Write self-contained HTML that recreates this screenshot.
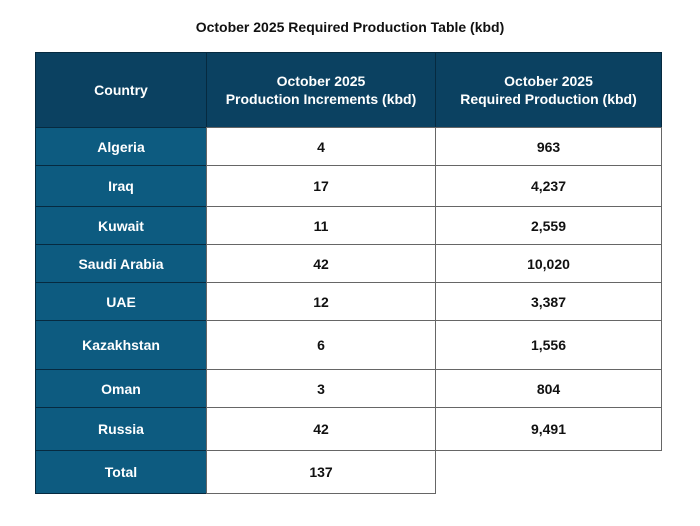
<!DOCTYPE html>
<html><head><meta charset="utf-8"><style>
body{margin:0;width:700px;height:526px;background:#fff;font-family:"Liberation Sans",sans-serif;position:relative;overflow:hidden}
.t{position:absolute;left:0;width:700px;top:19px;text-align:center;font-weight:bold;font-size:14px;color:#111}
.c{position:absolute;box-sizing:border-box;display:flex;align-items:center;justify-content:center;text-align:center;font-weight:bold;font-size:14px;border:1px solid #666;line-height:18px}
.h{background:#0b4161;color:#fff;border-color:#062a40}
.k{background:#0d5b80;color:#fff;border-color:#062a40}
.v{background:#fff;color:#111}
</style></head><body>
<div class="t">October 2025 Required Production Table (kbd)</div>
<div id="tbl"></div>
<script>
const countries=["Algeria","Iraq","Kuwait","Saudi Arabia","UAE","Kazakhstan","Oman","Russia","Total"];
const increments=["4","17","11","42","12","6","3","42","137"];
const required=["963","4,237","2,559","10,020","3,387","1,556","804","9,491",""];
const rowEdges=[127,165,206,244,282,320,369,407,450,493];
const colEdges=[35,206,435,661];
const tbl=document.getElementById('tbl');
function cell(x0,x1,y0,y1,cls,html,name){
  const d=document.createElement('div');
  d.className='c '+cls;
  d.style.left=x0+'px';d.style.top=y0+'px';
  d.style.width=(x1-x0+1)+'px';d.style.height=(y1-y0+1)+'px';
  d.innerHTML=html;
  
  
  tbl.appendChild(d);
}
cell(colEdges[0],colEdges[1],52,rowEdges[0],'h','Country','header-country');
cell(colEdges[1],colEdges[2],52,rowEdges[0],'h','October 2025<br>Production Increments (kbd)','header-increments');
cell(colEdges[2],colEdges[3],52,rowEdges[0],'h','October 2025<br>Required Production (kbd)','header-required');
countries.forEach((c,i)=>{
  const y0=rowEdges[i],y1=rowEdges[i+1];
  cell(colEdges[0],colEdges[1],y0,y1,'k',c,'country-cell');
  cell(colEdges[1],colEdges[2],y0,y1,'v',increments[i],'increment-cell');
  if(required[i]!=='') cell(colEdges[2],colEdges[3],y0,y1,'v',required[i],'required-cell');
});
</script>
</body></html>
